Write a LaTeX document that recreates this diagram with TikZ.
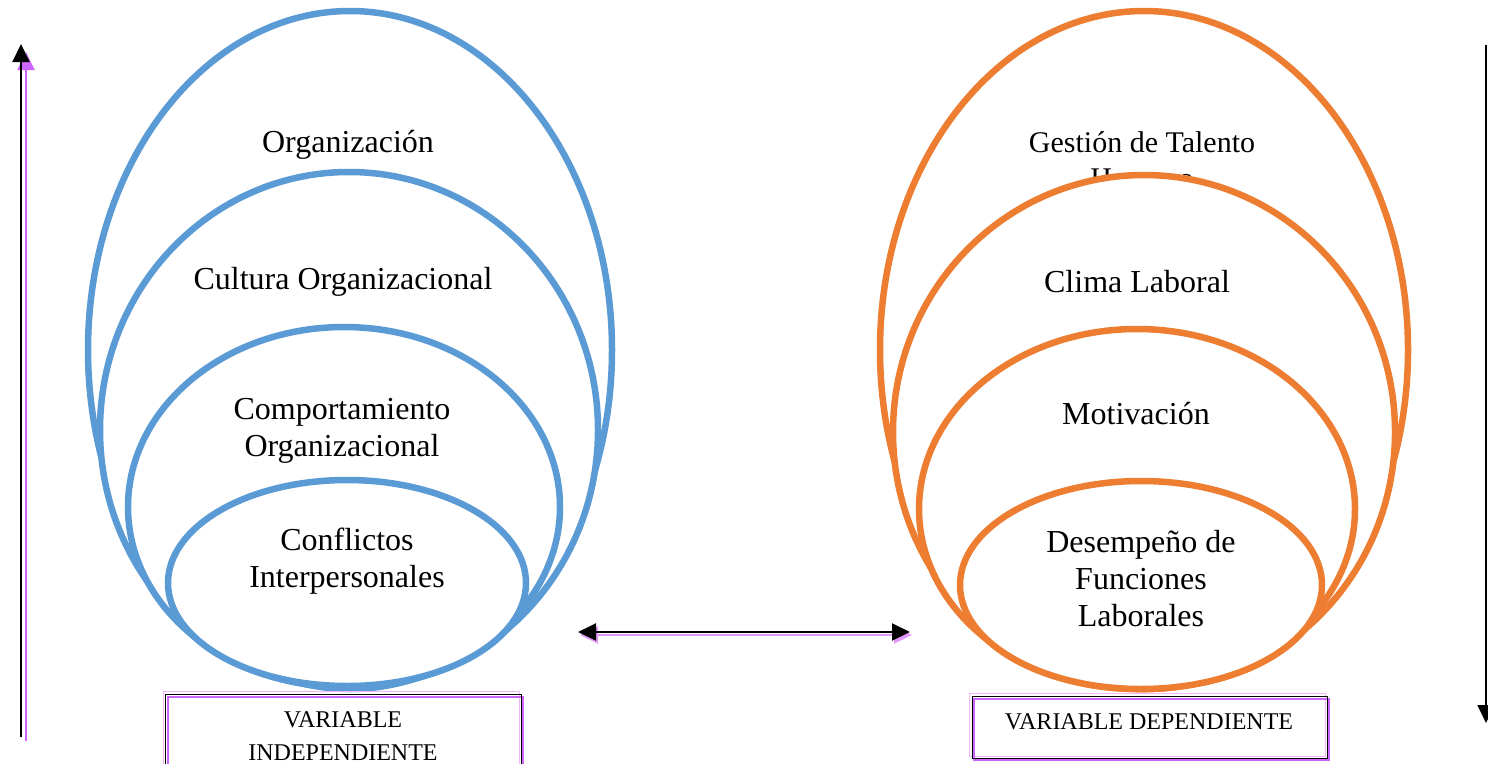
\documentclass[tikz,border=0pt]{standalone}
\usepackage{fontspec}
\setmainfont{Liberation Serif}
\usetikzlibrary{shapes.geometric,arrows.meta}
\definecolor{blueE}{HTML}{5B9BD5}
\definecolor{orangeE}{HTML}{ED7D31}
\definecolor{violetS}{HTML}{CC66FF}
\definecolor{pinkS}{HTML}{F0B8F8}
\tikzset{
  ring/.style={ellipse, draw, line width=6.5pt, fill=white, inner sep=0pt},
  bluering/.style={ring, draw=blueE},
  orangering/.style={ring, draw=orangeE},
  lbl/.style={font=\fontsize{32}{37}\selectfont, align=center, inner sep=0pt},
  boxlbl/.style={font=\fontsize{24}{29}\selectfont, align=center, inner sep=0pt},
  varbox/.style={draw=black, line width=1.2pt, inner sep=0pt},
  shadowbox/.style={draw=violetS, line width=1.2pt, inner sep=0pt},
  arr/.style={line width=2pt, -{Triangle[width=17pt,length=18pt]}},
  shadowarr/.style={line width=2pt, draw=violetS, -{Triangle[width=17pt,length=18pt]}, color=violetS},
  dblarr/.style={line width=2pt, {Triangle[width=17pt,length=18pt]}-{Triangle[width=17pt,length=18pt]}},
}
\begin{document}
\begin{tikzpicture}[x=1pt,y=-1pt]
\useasboundingbox (0,0) rectangle (1488,763);
% left (blue) ellipses
\node[bluering, minimum width=524pt, minimum height=678pt] (L1) at (350,350) {};
\node[lbl] (tL1) at (348,145) {Organización};
\node[bluering, minimum width=498pt, minimum height=516pt] (L2) at (349,430) {};
\node[lbl] (tL2) at (343,282) {Cultura Organizacional};
\node[bluering, minimum width=432pt, minimum height=360pt] (L3) at (344,507) {};
\node[lbl] (tL3) at (342,431) {Comportamiento\\Organizacional};
\node[bluering, minimum width=358pt, minimum height=206pt] (L4) at (347,583) {};
\node[lbl] (tL4) at (347,561) {Conflictos\\Interpersonales};
% right (orange) ellipses
\node[orangering, minimum width=528pt, minimum height=678pt] (R1) at (1144,350) {};
\node[lbl, font=\fontsize{30}{36}\selectfont] (tR1) at (1142,160) {Gestión de Talento\\Humano};
\node[orangering, minimum width=502pt, minimum height=514pt] (R2) at (1144,432) {};
\node[lbl] (tR2) at (1137,282) {Clima Laboral};
\node[orangering, minimum width=436pt, minimum height=360pt] (R3) at (1137,509) {};
\node[lbl] (tR3) at (1136,414) {Motivación};
\node[orangering, minimum width=362pt, minimum height=208pt] (R4) at (1141,585) {};
\node[lbl] (tR4) at (1141,579) {Desempeño de\\Funciones\\Laborales};
% boxes
\draw[draw=pinkS, line width=1pt] (163,691) rectangle (519,770);
\draw[shadowbox] (168,697) rectangle (523,770);
\node[varbox, minimum width=356pt, minimum height=80pt, anchor=north west] (BL) at (165,694) {};
\node[boxlbl, font=\fontsize{24}{33}\selectfont] (tBL) at (343,736) {VARIABLE\\INDEPENDIENTE};
\draw[draw=pinkS, line width=1pt] (969,693) rectangle (1325,756);
\draw[shadowbox] (974,699) rectangle (1329,760);
\node[varbox, minimum width=355pt, minimum height=62pt, anchor=north west] (BR) at (972,696) {};
\node[boxlbl] (tBR) at (1149,722) {VARIABLE DEPENDIENTE};
% left vertical arrow
\coordinate (la0) at (21,737);
\coordinate (la1) at (21,44);
\coordinate (lb0) at (26,741);
\coordinate (lb1) at (26,52);
\draw[shadowarr] (lb0) -- (lb1);
\draw[arr] (la0) -- (la1);
% right vertical arrow
\coordinate (ra0) at (1486,45);
\coordinate (ra1) at (1486,723);
\draw[arr] (ra0) -- (ra1);
% centre double arrow
\coordinate (ca0) at (580,635);
\coordinate (ca1) at (912,635);
\draw[dblarr, color=pinkS!60!violetS] (ca0) -- (ca1);
\coordinate (cb0) at (578,632);
\coordinate (cb1) at (910,632);
\draw[dblarr] (cb0) -- (cb1);
\end{tikzpicture}
\end{document}
